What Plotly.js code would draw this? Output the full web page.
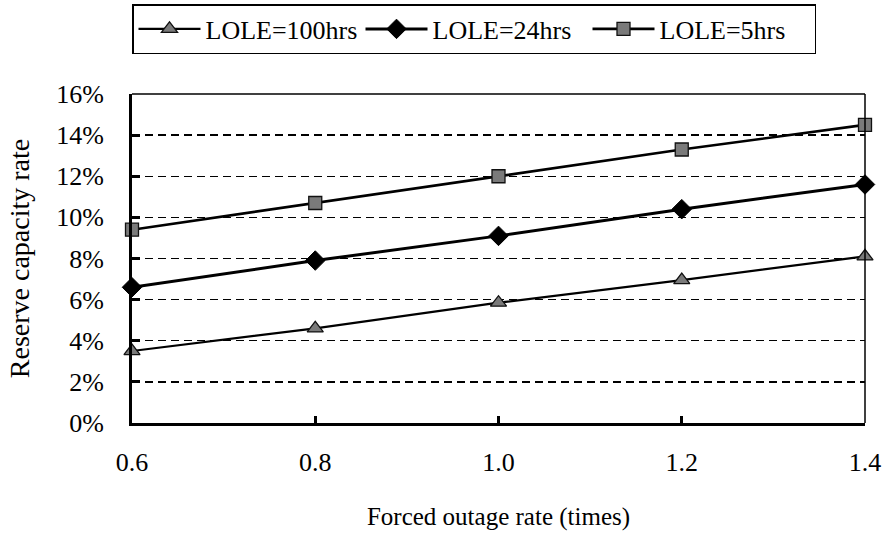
<!DOCTYPE html>
<html>
<head>
<meta charset="utf-8">
<script src="https://cdn.plot.ly/plotly-3.0.1.min.js"></script>
<style>html,body{margin:0;padding:0;background:#fff;}</style>
</head>
<body>
<div id="chart" style="width:883px;height:557px;"></div>
<script>
const forcedOutage = [0.6, 0.8, 1.0, 1.2, 1.4];
const lole100 = [0.035, 0.046, 0.0585, 0.0695, 0.081];
const lole24 = [0.066, 0.079, 0.091, 0.104, 0.116];
const lole5 = [0.094, 0.107, 0.120, 0.133, 0.145];
const seriesNames = ['LOLE=100hrs', 'LOLE=24hrs', 'LOLE=5hrs'];
const xTickVals = [0.6, 0.8, 1.0, 1.2, 1.4];
const xTickText = ['0.6', '0.8', '1.0', '1.2', '1.4'];

const font = 'Liberation Serif';

const traces = [
  {x: forcedOutage, y: lole100, name: seriesNames[0], mode: 'lines+markers', cliponaxis: false,
   line: {color: '#000', width: 2.2},
   marker: {symbol: 'triangle-up', size: 14, color: '#7a7a7a', line: {color: '#111', width: 1.3}}},
  {x: forcedOutage, y: lole24, name: seriesNames[1], mode: 'lines+markers', cliponaxis: false,
   line: {color: '#000', width: 3},
   marker: {symbol: 'diamond', size: 15, color: '#000', line: {color: '#000', width: 1}}},
  {x: forcedOutage, y: lole5, name: seriesNames[2], mode: 'lines+markers', cliponaxis: false,
   line: {color: '#000', width: 2.6},
   marker: {symbol: 'square', size: 13, color: '#7a7a7a', line: {color: '#111', width: 1.3}}}
];

const layout = {
  width: 883, height: 557,
  margin: {l: 132, r: 18, t: 94, b: 134},
  paper_bgcolor: '#fff', plot_bgcolor: '#fff',
  font: {family: font, color: '#000', size: 26},
  showlegend: true,
  legend: {orientation: 'h', xref: 'container', yref: 'container',
           x: 474 / 883, xanchor: 'center', y: 1 - 4 / 557, yanchor: 'top',
           bordercolor: '#000', borderwidth: 1.5, font: {family: font, size: 26, color: '#000'},
           itemwidth: 62, entrywidth: 150, entrywidthmode: 'pixels', tracegroupgap: 0},
  xaxis: {range: [0.6, 1.4], tickvals: xTickVals, ticktext: xTickText,
          showgrid: false, zeroline: false, showline: true, linecolor: '#000', linewidth: 3,
          ticks: 'inside', ticklen: 7, tickwidth: 3, tickcolor: '#000',
          ticklabelstandoff: 14,
          tickfont: {family: font, size: 26},
          title: {text: 'Forced outage rate (times)', font: {family: font, size: 25}, standoff: 32}},
  yaxis: {range: [0, 0.16], dtick: 0.02, tickformat: '.0%',
          showgrid: true, gridcolor: '#000', gridwidth: 1.4, griddash: '8px,5px',
          zeroline: false, showline: true, linecolor: '#000', linewidth: 3,
          ticks: 'inside', ticklen: 8, tickwidth: 3, tickcolor: '#000',
          ticklabelstandoff: 20,
          tickfont: {family: font, size: 26},
          title: {text: 'Reserve capacity rate', font: {family: font, size: 28}, standoff: 19}},
  shapes: [
    {type: 'line', xref: 'paper', yref: 'paper', x0: 0, x1: 1, y0: 1, y1: 1, line: {color: '#000', width: 1.5}},
    {type: 'line', xref: 'paper', yref: 'paper', x0: 1, x1: 1, y0: 0, y1: 1, line: {color: '#000', width: 1.5}}
  ]
};

Plotly.newPlot('chart', traces, layout, {displayModeBar: false, staticPlot: true});
</script>
</body>
</html>
